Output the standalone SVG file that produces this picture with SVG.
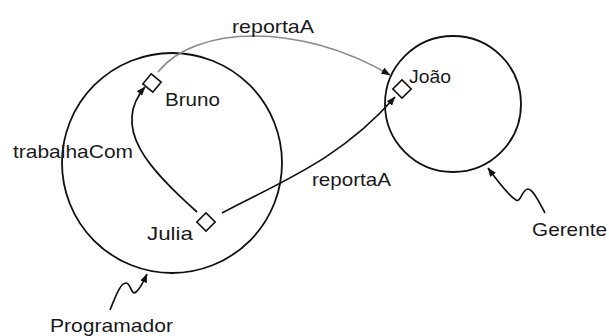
<svg xmlns="http://www.w3.org/2000/svg" width="609" height="336" viewBox="0 0 609 336">
  <style>
    .set { fill: none; stroke: #111; stroke-width: 1.8; }
    .inst { fill: #fff; stroke: #111; stroke-width: 1.6; }
    .lbl { font-family: "Liberation Sans", Arial, Helvetica, sans-serif; font-size: 19px; fill: #1a1a1a; }
    .edge { fill: none; stroke: #111; stroke-width: 1.7; }
    .edge.soft { stroke: #8a8a8a; stroke-width: 1.5; }
  </style>
  <defs>
    <marker id="head" viewBox="0 0 9 7" refX="8.5" refY="3.5" markerWidth="9" markerHeight="7" markerUnits="userSpaceOnUse" orient="auto">
      <path d="M0,0 L9,3.5 L0,7 z" fill="#111"/>
    </marker>
  </defs>

  <rect width="609" height="336" fill="#fff"/>

  <!-- class sets -->
  <g id="programador">
    <circle class="set" cx="172" cy="163" r="110"/>
    <text class="lbl" x="50" y="332" textLength="123" lengthAdjust="spacingAndGlyphs">Programador</text>
  </g>
  <g id="gerente">
    <circle class="set" cx="453" cy="104" r="68"/>
    <text class="lbl" x="532" y="236" textLength="75" lengthAdjust="spacingAndGlyphs">Gerente</text>
  </g>

  <!-- instances -->
  <g id="bruno">
    <rect class="inst" x="-6.5" y="-6.5" width="13" height="13" transform="translate(152,83) rotate(40)"/>
    <text class="lbl" x="165" y="106" textLength="55" lengthAdjust="spacingAndGlyphs">Bruno</text>
  </g>
  <g id="julia">
    <rect class="inst" x="-6.5" y="-6.5" width="13" height="13" transform="translate(206,222) rotate(45)"/>
    <text class="lbl" x="147" y="240" textLength="46" lengthAdjust="spacingAndGlyphs">Julia</text>
  </g>
  <g id="joao">
    <rect class="inst" x="-6.5" y="-6.5" width="13" height="13" transform="translate(402,89) rotate(45)"/>
    <text class="lbl" x="409" y="83" textLength="42" lengthAdjust="spacingAndGlyphs">João</text>
  </g>

  <!-- relations and pointers -->
  <g id="connectors">
    <path class="edge soft" d="M158,72 C195,25 300,22 390,75" marker-end="url(#head)"/>
    <text class="lbl" x="232" y="33" textLength="82" lengthAdjust="spacingAndGlyphs">reportaA</text>

    <path class="edge" d="M197,212 C150,170 110,128 145,87" marker-end="url(#head)"/>
    <text class="lbl" x="13" y="158" textLength="120" lengthAdjust="spacingAndGlyphs">trabalhaCom</text>

    <path class="edge" d="M222,213 C280,182 340,160 395,97" marker-end="url(#head)"/>
    <text class="lbl" x="312" y="186" textLength="79" lengthAdjust="spacingAndGlyphs">reportaA</text>

    <path class="edge" d="M545,213 C539,202 533,189 528,189 C522,189 521,203 516,200 C511,197 499,183 488,168" marker-end="url(#head)"/>
    <path class="edge" d="M110,310 C115,298 120,283 126,283 C131,283 131,296 136,292 C140,289 143,283 147,274" marker-end="url(#head)"/>
  </g>
</svg>
